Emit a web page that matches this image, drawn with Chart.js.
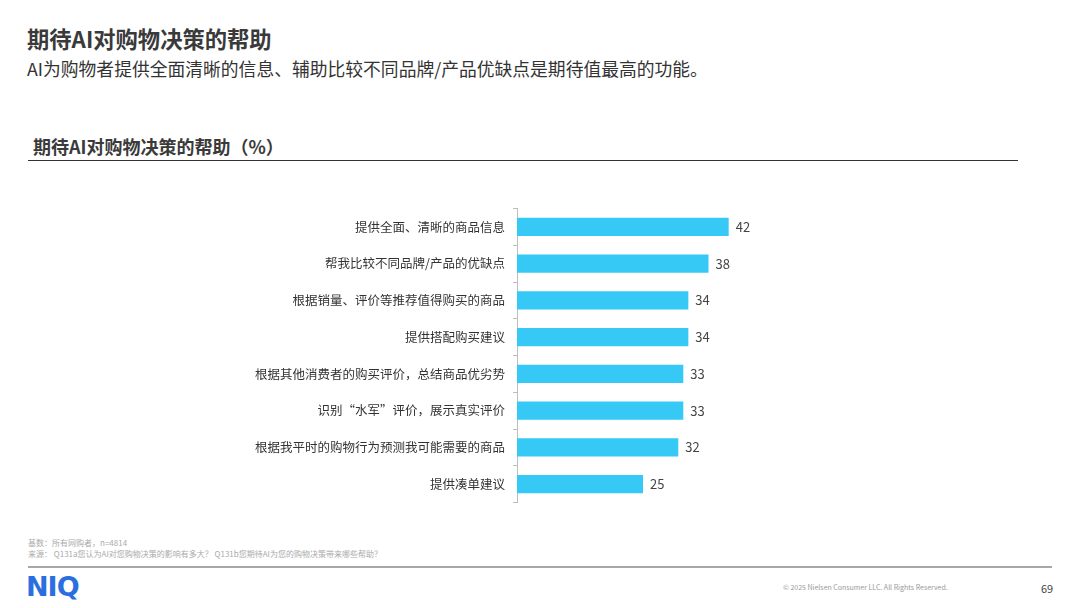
<!DOCTYPE html>
<html><head><meta charset="utf-8">
<script src="https://cdn.jsdelivr.net/npm/chart.js@4"></script>
<style>
html,body{margin:0;padding:0;background:#fff;width:1080px;height:608px;overflow:hidden;font-family:"Noto Sans CJK SC","Noto Sans",sans-serif;}
.abs{position:absolute;white-space:nowrap;}
#t1{left:27px;top:22px;font-size:22.3px;line-height:32px;font-weight:700;color:#3a3a3a;}
#t2{left:27px;top:55px;font-size:17.8px;line-height:26px;color:#333;}
#t3{left:33px;top:133px;font-size:18px;line-height:26px;font-weight:700;color:#3a3a3a;}
#l1{left:28px;top:160px;width:990px;height:1px;background:#333;}
#fn{left:28px;top:537px;font-size:8px;line-height:11px;color:#aaa;}
#l2{left:28px;top:566px;width:1024px;height:2px;background:#a8a8a8;}
#logo{left:26px;top:571px;font-size:27px;font-weight:900;color:#2a6ee0;font-family:"DejaVu Sans","Noto Sans",sans-serif;letter-spacing:-1px;}
#cp{left:783px;top:582px;font-size:7px;color:#999;}
#pg{left:1041px;top:580px;font-size:11px;color:#444;}
#cv{position:absolute;left:0;top:193px;width:1080px;height:325px;}
</style></head>
<body>
<div class="abs" id="t1">期待AI对购物决策的帮助</div>
<div class="abs" id="t2">AI为购物者提供全面清晰的信息、辅助比较不同品牌/产品优缺点是期待值最高的功能。</div>
<div class="abs" id="t3">期待AI对购物决策的帮助（%）</div>
<div class="abs" id="l1"></div>
<div id="cv"><canvas id="c"></canvas></div>
<div class="abs" id="fn">基数：所有网购者，n=4814<br>来源： Q131a您认为AI对您购物决策的影响有多大？ Q131b您期待AI为您的购物决策带来哪些帮助？</div>
<div class="abs" id="l2"></div>
<div class="abs" id="logo">NIQ</div>
<div class="abs" id="cp">© 2025 Nielsen Consumer LLC. All Rights Reserved.</div>
<div class="abs" id="pg">69</div>
<script>
const categories = [
  "提供全面、清晰的商品信息",
  "帮我比较不同品牌/产品的优缺点",
  "根据销量、评价等推荐值得购买的商品",
  "提供搭配购买建议",
  "根据其他消费者的购买评价，总结商品优劣势",
  "识别“水军”评价，展示真实评价",
  "根据我平时的购物行为预测我可能需要的商品",
  "提供凑单建议"
];
const values = [42, 38, 34, 34, 33, 33, 32, 25];

const valueLabels = {
  id: 'valueLabels',
  afterDatasetsDraw(chart) {
    const ctx = chart.ctx;
    const meta = chart.getDatasetMeta(0);
    ctx.save();
    ctx.font = '13px "Noto Sans CJK SC", "Noto Sans", sans-serif';
    ctx.fillStyle = '#444';
    ctx.textAlign = 'left';
    ctx.textBaseline = 'middle';
    meta.data.forEach((bar, i) => {
      ctx.fillText(String(values[i]), bar.x + 7, bar.y);
    });
    ctx.restore();
  }
};

new Chart(document.getElementById('c'), {
  type: 'bar',
  data: {
    labels: categories,
    datasets: [{
      data: values,
      backgroundColor: '#36c9f5',
      borderWidth: 0,
      barPercentage: 0.49,
      categoryPercentage: 1.0
    }]
  },
  options: {
    indexAxis: 'y',
    responsive: true,
    maintainAspectRatio: false,
    animation: false,
    layout: { padding: { top: 8, bottom: 8, right: 311, left: 0 } },
    plugins: { legend: { display: false }, tooltip: { enabled: false } },
    scales: {
      x: { display: false, min: 0, max: 50 },
      y: {
        afterFit(scale) { scale.width = 517; },
        border: { display: true, color: '#bdbdbd', width: 1 },
        grid: { display: true, drawOnChartArea: false, tickLength: 4, color: '#bdbdbd', offset: true },
        ticks: {
          color: '#333',
          padding: 8,
          font: { size: 12.5, family: '"Noto Sans CJK SC", "Noto Sans", sans-serif' }
        }
      }
    }
  },
  plugins: [valueLabels]
});
</script>
</body></html>
